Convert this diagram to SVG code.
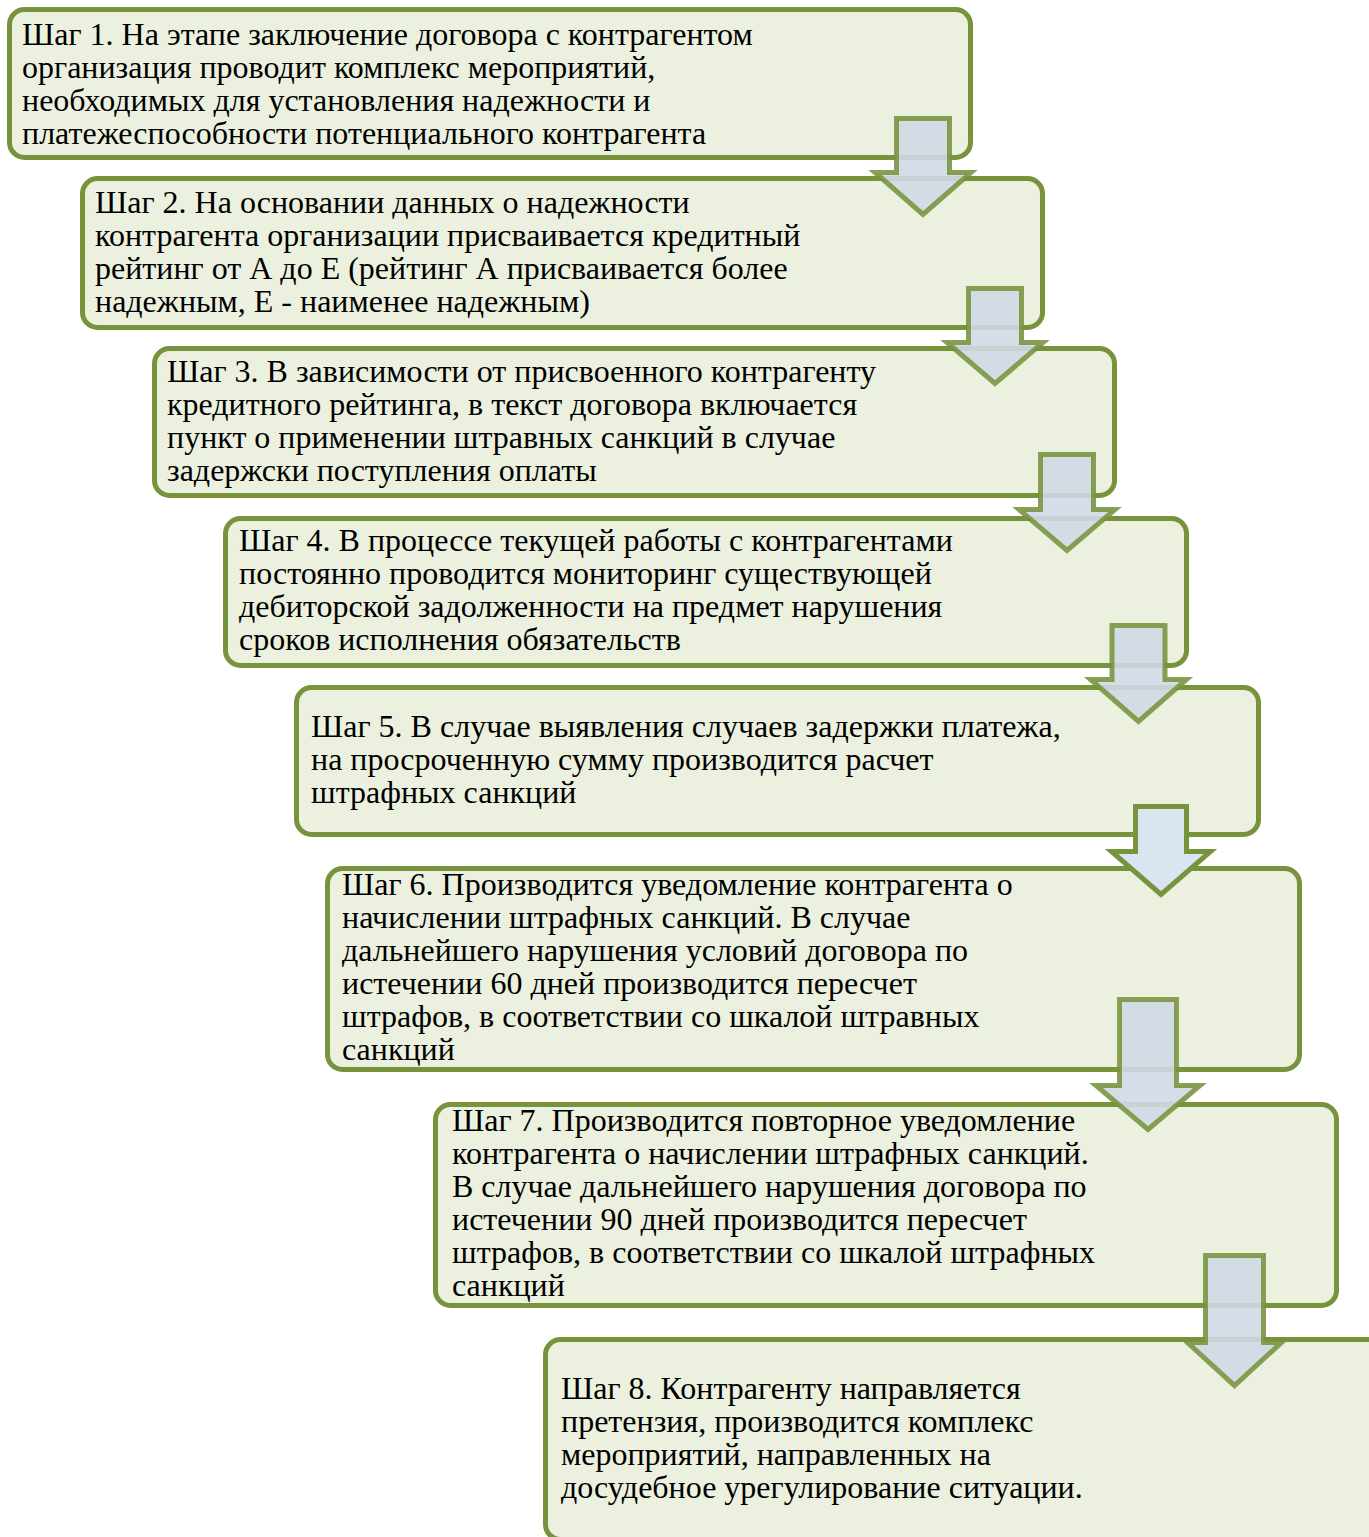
<svg xmlns="http://www.w3.org/2000/svg" width="1369" height="1537" viewBox="0 0 1369 1537">
<style>
.box{fill:#ebf1de;stroke:#77933c;stroke-width:5}
.arr{fill:#d0d9e6;fill-opacity:0.9;stroke:#77933c;stroke-opacity:0.88;stroke-width:5;stroke-linejoin:miter;stroke-miterlimit:10}
.arr5{fill:#dbe5f1;stroke:#77933c;stroke-width:5;stroke-linejoin:miter;stroke-miterlimit:10}
text{font-family:"Liberation Serif","Times New Roman",serif;font-size:32px;fill:#000}
</style>
<rect width="1369" height="1537" fill="#ffffff"/>
<g id="step1">
<rect class="box" x="9.5" y="9.5" width="961" height="148" rx="15"/>
<text x="22"><tspan x="22" y="44.5">Шаг 1. На этапе заключение договора с контрагентом</tspan><tspan x="22" y="77.5">организация проводит комплекс мероприятий,</tspan><tspan x="22" y="110.5">необходимых для установления надежности и</tspan><tspan x="22" y="143.5">платежеспособности потенциального контрагента</tspan></text>
</g>
<g id="step2">
<rect class="box" x="82.5" y="178.5" width="960" height="149" rx="15"/>
<text><tspan x="95" y="213">Шаг 2. На основании данных о надежности</tspan><tspan x="95" y="246">контрагента организации присваивается кредитный</tspan><tspan x="95" y="279">рейтинг от А до Е (рейтинг А присваивается более</tspan><tspan x="95" y="312">надежным, Е - наименее надежным)</tspan></text>
</g>
<g id="step3">
<rect class="box" x="154.5" y="348.5" width="960" height="147" rx="15"/>
<text><tspan x="167" y="382">Шаг 3. В зависимости от присвоенного контрагенту</tspan><tspan x="167" y="415">кредитного рейтинга, в текст договора включается</tspan><tspan x="167" y="448">пункт о применении штравных санкций в случае</tspan><tspan x="167" y="481">задержски поступления оплаты</tspan></text>
</g>
<g id="step4">
<rect class="box" x="225.5" y="518.5" width="961" height="147" rx="15"/>
<text><tspan x="239" y="551">Шаг 4. В процессе текущей работы с контрагентами</tspan><tspan x="239" y="584">постоянно проводится мониторинг существующей</tspan><tspan x="239" y="617">дебиторской задолженности на предмет нарушения</tspan><tspan x="239" y="650">сроков исполнения обязательств</tspan></text>
</g>
<g id="step5">
<rect class="box" x="296.5" y="687.5" width="962" height="147" rx="15"/>
<text><tspan x="311" y="737">Шаг 5. В случае выявления случаев задержки платежа,</tspan><tspan x="311" y="770">на просроченную сумму производится расчет</tspan><tspan x="311" y="803">штрафных санкций</tspan></text>
</g>
<g id="step6">
<rect class="box" x="327.5" y="868.5" width="972" height="201" rx="15"/>
<text><tspan x="342" y="895">Шаг 6. Производится уведомление контрагента о</tspan><tspan x="342" y="928">начислении штрафных санкций. В случае</tspan><tspan x="342" y="961">дальнейшего нарушения условий договора по</tspan><tspan x="342" y="994">истечении 60 дней производится пересчет</tspan><tspan x="342" y="1027">штрафов, в соответствии со шкалой штравных</tspan><tspan x="342" y="1060">санкций</tspan></text>
</g>
<g id="step7">
<rect class="box" x="435.5" y="1104.5" width="901" height="201" rx="15"/>
<text><tspan x="452" y="1131">Шаг 7. Производится повторное уведомление</tspan><tspan x="452" y="1164">контрагента о начислении штрафных санкций.</tspan><tspan x="452" y="1197">В случае дальнейшего нарушения договора по</tspan><tspan x="452" y="1230">истечении 90 дней производится пересчет</tspan><tspan x="452" y="1263">штрафов, в соответствии со шкалой штрафных</tspan><tspan x="452" y="1296">санкций</tspan></text>
</g>
<g id="step8">
<rect class="box" x="545.5" y="1339.5" width="840" height="200" rx="15"/>
<text><tspan x="561" y="1399">Шаг 8. Контрагенту направляется</tspan><tspan x="561" y="1432">претензия, производится комплекс</tspan><tspan x="561" y="1465">мероприятий, направленных на</tspan><tspan x="561" y="1498">досудебное урегулирование ситуации.</tspan></text>
</g>
<g id="connectors">
<polygon class="arr" points="896.5,118.5 949.5,118.5 949.5,172.5 971,172.5 923,214.5 875,172.5 896.5,172.5"/>
<polygon class="arr" points="968.5,288.5 1021.5,288.5 1021.5,342.5 1043,342.5 995,383.5 947,342.5 968.5,342.5"/>
<polygon class="arr" points="1040.5,454.5 1093.5,454.5 1093.5,509.5 1115,509.5 1067,550.5 1019,509.5 1040.5,509.5"/>
<polygon class="arr" points="1112,625.5 1165,625.5 1165,679.5 1186.5,679.5 1138.5,721.5 1090.5,679.5 1112,679.5"/>
<polygon class="arr5" points="1135.5,806.5 1186.5,806.5 1186.5,851.5 1210.5,851.5 1161,894.5 1111.5,851.5 1135.5,851.5"/>
<polygon class="arr" points="1119.5,999.5 1176.5,999.5 1176.5,1085.5 1200,1085.5 1148,1129.5 1096,1085.5 1119.5,1085.5"/>
<polygon class="arr" points="1205.5,1255.5 1263.5,1255.5 1263.5,1342.5 1281.5,1342.5 1234.5,1385.5 1187.5,1342.5 1205.5,1342.5"/>
</g>
</svg>
